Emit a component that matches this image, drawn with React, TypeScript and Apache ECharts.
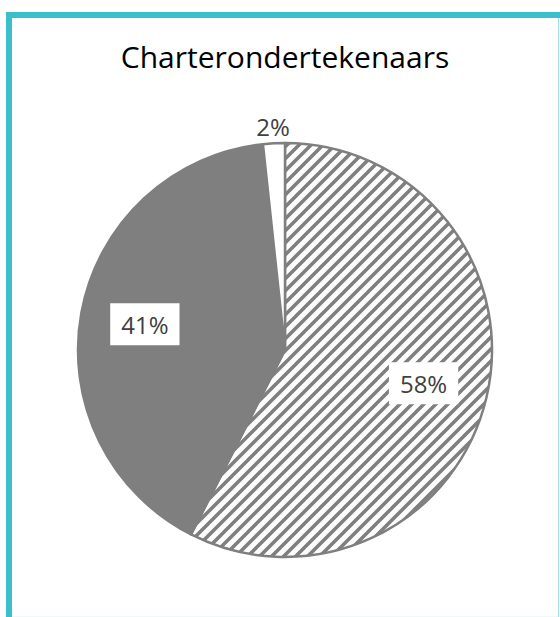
import React, { useEffect, useRef } from 'react';
import * as echarts from 'echarts';

const titleText = 'Charterondertekenaars';
const categories = ['Deel A', 'Deel B', 'Deel C'];
const values = [57.5, 40.8, 1.7];
const labelTexts = ['58%', '41%', '2%'];

const GRAY = '#7f7f7f';
const TEAL = '#3bbfcb';
const FONT = "'Open Sans', 'Noto Sans', sans-serif";

function makeHatch(): HTMLCanvasElement {
  const s = 12;
  const c = document.createElement('canvas');
  c.width = s;
  c.height = s;
  const ctx = c.getContext('2d') as CanvasRenderingContext2D;
  ctx.fillStyle = '#ffffff';
  ctx.fillRect(0, 0, s, s);
  ctx.strokeStyle = GRAY;
  ctx.lineWidth = 3.6;
  ctx.beginPath();
  ctx.moveTo(-s / 2, s / 2);
  ctx.lineTo(s / 2, -s / 2);
  ctx.moveTo(0, s);
  ctx.lineTo(s, 0);
  ctx.moveTo(s / 2, s * 1.5);
  ctx.lineTo(s * 1.5, s / 2);
  ctx.stroke();
  return c;
}

export default function App() {
  const ref = useRef<HTMLDivElement>(null);

  useEffect(() => {
    if (!ref.current) return;
    const chart = echarts.init(ref.current, null, { renderer: 'svg' });
    const hatch = makeHatch();
    const fills: any[] = [
      { image: hatch, repeat: 'repeat', imageWidth: 12, imageHeight: 12 },
      GRAY,
      '#ffffff',
    ];
    const center = [285, 350];
    const R = 207;

    const shapeData = categories.map((name, i) => ({
      name,
      value: values[i],
      itemStyle: { color: fills[i] },
    }));

    const labelBase = {
      fontFamily: FONT,
      fontSize: 24,
      color: '#404040',
    };

    const innerLabelData = categories.map((name, i) => ({
      name,
      value: values[i],
      label: i < 2
        ? { show: true, position: 'inside', ...labelBase, backgroundColor: '#ffffff', padding: [9, 11, 9, 11] }
        : { show: false },
    }));

    const outerLabelData = categories.map((name, i) => ({
      name,
      value: values[i],
      label: i === 2 ? { show: true, position: 'inside', ...labelBase } : { show: false },
    }));

    chart.setOption({
      animation: false,
      backgroundColor: '#ffffff',
      graphic: [
        {
          type: 'text',
          x: 285,
          y: 56,
          style: {
            text: titleText,
            fontFamily: FONT,
            fontSize: 30,
            fill: '#000000',
            textAlign: 'center',
            textVerticalAlign: 'middle',
          },
        },
      ],
      series: [
        {
          type: 'pie',
          center,
          radius: R,
          startAngle: 90,
          clockwise: true,
          silent: true,
          label: { show: false },
          labelLine: { show: false },
          itemStyle: { borderColor: GRAY, borderWidth: 2.5 },
          emphasis: { disabled: true },
          data: shapeData,
        },
        {
          type: 'pie',
          center,
          radius: [72, R],
          startAngle: 90,
          clockwise: true,
          silent: true,
          labelLine: { show: false },
          label: { formatter: (p: any) => labelTexts[p.dataIndex] },
          itemStyle: { color: 'rgba(0,0,0,0)', borderWidth: 0 },
          emphasis: { disabled: true },
          data: innerLabelData,
        },
        {
          type: 'pie',
          center,
          radius: [R + 1, R + 27],
          startAngle: 90,
          clockwise: true,
          silent: true,
          labelLine: { show: false },
          label: { formatter: (p: any) => labelTexts[p.dataIndex] },
          itemStyle: { color: 'rgba(0,0,0,0)', borderWidth: 0 },
          emphasis: { disabled: true },
          data: outerLabelData,
        },
      ],
    });
    return () => chart.dispose();
  }, []);

  const bar = (style: React.CSSProperties): React.CSSProperties => ({
    position: 'absolute',
    pointerEvents: 'none',
    zIndex: 2,
    ...style,
  });

  return (
    <div style={{ position: 'absolute', left: 0, top: 0, width: 560, height: 617, overflow: 'hidden', background: '#fff' }}>
      <div ref={ref} style={{ position: 'absolute', left: 0, top: 0, width: 560, height: 617 }} />
      <div style={bar({ left: 6, top: 12, width: 554, height: 6, background: TEAL })} />
      <div style={bar({ left: 6, top: 12, width: 6, height: 605, background: TEAL })} />
      <div style={bar({ left: 558, top: 18, width: 1, height: 599, background: '#a8dfe4' })} />
      <div style={bar({ left: 12, top: 616, width: 546, height: 1, background: '#eef9fa' })} />
    </div>
  );
}
